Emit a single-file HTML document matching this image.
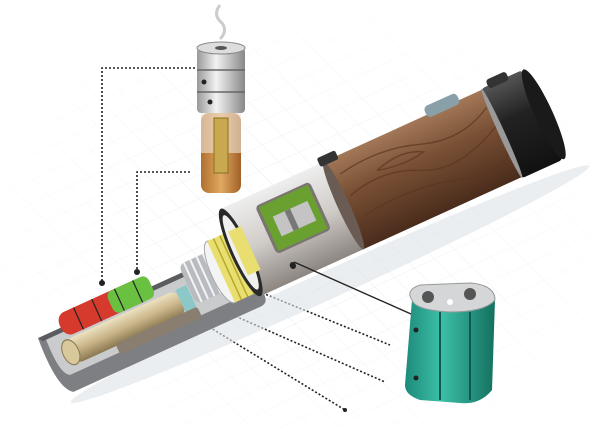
<!DOCTYPE html>
<html><head><style>html,body{margin:0;padding:0;background:#fff;width:600px;height:428px;overflow:hidden}</style></head>
<body>
<svg width="600" height="428" viewBox="0 0 600 428" xmlns="http://www.w3.org/2000/svg">
<defs>
<pattern id="grid" width="22" height="22" patternUnits="userSpaceOnUse" patternTransform="rotate(-25) skewX(20)">
<path d="M0 0H22M0 0V22" stroke="#dfe8ee" stroke-width="1" fill="none"/></pattern>
<radialGradient id="fade" cx="0.5" cy="0.55" r="0.6"><stop offset="0" stop-color="#fff" stop-opacity="0"/><stop offset="1" stop-color="#fff" stop-opacity="1"/></radialGradient>
<linearGradient id="wood" x1="0" y1="0" x2="0" y2="1"><stop offset="0" stop-color="#a27858"/><stop offset="0.4" stop-color="#7a5035"/><stop offset="1" stop-color="#4a2c1c"/></linearGradient>
<linearGradient id="metal" x1="0" y1="0" x2="0" y2="1"><stop offset="0" stop-color="#eee"/><stop offset="0.5" stop-color="#d0ccc8"/><stop offset="1" stop-color="#8c8580"/></linearGradient>
<linearGradient id="cap" x1="0" y1="0" x2="0" y2="1"><stop offset="0" stop-color="#555"/><stop offset="0.4" stop-color="#222"/><stop offset="1" stop-color="#111"/></linearGradient>
<linearGradient id="gold" x1="0" y1="0" x2="0" y2="1"><stop offset="0" stop-color="#eee2c0"/><stop offset="0.5" stop-color="#c8b488"/><stop offset="1" stop-color="#8a7850"/></linearGradient>
<linearGradient id="teal" x1="0" y1="0" x2="1" y2="0"><stop offset="0" stop-color="#1d8a7a"/><stop offset="0.4" stop-color="#3cc0a8"/><stop offset="1" stop-color="#14705f"/></linearGradient>
<linearGradient id="amber" x1="0" y1="0" x2="1" y2="0"><stop offset="0" stop-color="#b07030"/><stop offset="0.5" stop-color="#e0a860"/><stop offset="1" stop-color="#a06028"/></linearGradient>
<linearGradient id="cmetal" x1="0" y1="0" x2="1" y2="0"><stop offset="0" stop-color="#999"/><stop offset="0.4" stop-color="#f2f2f2"/><stop offset="1" stop-color="#888"/></linearGradient>
</defs>
<rect width="600" height="428" fill="url(#grid)"/>
<rect width="600" height="428" fill="url(#fade)"/>

<g fill="none" stroke="#222" stroke-width="1.6" stroke-dasharray="2 2">
<path d="M203 68H102V283"/>
<path d="M190 172H137V272"/>
<path d="M165 300L345 410"/>
<path d="M210 305L385 382"/>
<path d="M255 290L390 345"/>
</g>
<circle cx="102" cy="283" r="3" fill="#222"/><circle cx="137" cy="272" r="3" fill="#222"/>
<circle cx="345" cy="410" r="2" fill="#222"/>

<g transform="translate(66,332) rotate(-24.5)">
 <ellipse cx="260" cy="66" rx="285" ry="14" fill="#dde3e8" opacity="0.6"/>
 <g transform="scale(1,1.2)">
 <path d="M-28 -5 L196 -5 L196 40 Q196 48 188 48 L-18 48 Q-32 40 -28 -5Z" fill="#7d7f82"/>
 <path d="M-21 -5 L196 -5 L196 34 L-14 34 Q-24 30 -21 -5Z" fill="#c9cbcd"/>
 <path d="M-28 -5 L196 -5 L196 -1 L-25 -1Z" fill="#5a5c5e"/>
 <rect x="-6" y="6" width="125" height="22" rx="10" fill="url(#gold)"/>
 <ellipse cx="-4" cy="17" rx="8" ry="11" fill="#d8c89c" stroke="#8a7850"/>
 <rect x="117" y="6" width="12" height="22" fill="#8cc8c8"/>
 <rect x="-3" y="-16" width="95" height="20" rx="9" fill="#d63a2c"/>
 <rect x="52" y="-16" width="45" height="20" rx="6" fill="#6ac040"/>
 <g stroke="#222" stroke-width="1.2"><line x1="17" y1="-16" x2="17" y2="4"/><line x1="37" y1="-16" x2="37" y2="4"/><line x1="62" y1="-16" x2="62" y2="4"/><line x1="82" y1="-16" x2="82" y2="4"/></g>
 <rect x="40" y="26" width="90" height="10" rx="3" fill="#8a7e70"/>
 <rect x="130" y="-12" width="40" height="36" rx="6" fill="#b8bcc0"/>
 <g stroke="#f4f4f4" stroke-width="2"><line x1="136" y1="-12" x2="136" y2="24"/><line x1="143" y1="-12" x2="143" y2="24"/><line x1="150" y1="-12" x2="150" y2="24"/><line x1="157" y1="-12" x2="157" y2="24"/><line x1="164" y1="-12" x2="164" y2="24"/></g>
 <ellipse cx="166" cy="8" rx="10" ry="28" fill="#f4f4f4" stroke="#aaa"/>
 <rect x="166" y="-20" width="30" height="56" fill="#e8df70"/>
 <g stroke="#b8a830" stroke-width="1.5"><line x1="173" y1="-20" x2="173" y2="36"/><line x1="180" y1="-20" x2="180" y2="36"/><line x1="187" y1="-20" x2="187" y2="36"/></g>
 <rect x="192" y="-40" width="112" height="80" fill="url(#metal)"/>
 <ellipse cx="192" cy="0" rx="10" ry="40" fill="#2a2a2a"/>
 <ellipse cx="192" cy="0" rx="7" ry="34" fill="#f0f0f0"/>
 <path d="M189 -20 h14 v40 h-14z" fill="#e8df70"/>
 <rect x="224" y="-30" width="60" height="44" rx="4" fill="#7a7570"/>
 <rect x="227" y="-28" width="54" height="40" fill="#6aa030"/>
 <rect x="236" y="-16" width="38" height="18" fill="#c4c4c4"/>
 <rect x="249" y="-16" width="6" height="18" fill="#777"/>
 <circle cx="234" cy="28" r="3" fill="#222"/>
 <rect x="304" y="-40" width="176" height="80" fill="url(#wood)"/>
 <ellipse cx="305" cy="0" rx="6" ry="40" fill="#6a5c54"/>
 <g stroke="#5a3620" stroke-width="1.2" fill="none" opacity="0.7">
 <path d="M315 -25 Q360 -32 400 -20 T476 -25"/><path d="M315 -5 Q355 -15 390 0 T478 -8"/><path d="M320 15 Q370 8 420 20 T478 14"/><path d="M350 -15 q30 -8 50 2 q-22 4 -50 -2"/>
 </g>
 <rect x="300" y="-45" width="20" height="8" rx="2" fill="#333"/>
 <rect x="418" y="-47" width="36" height="10" rx="4" fill="#8aa0a8"/>
 <rect x="478" y="-41" width="46" height="82" rx="4" fill="url(#cap)"/>
 <ellipse cx="525" cy="0" rx="9" ry="41" fill="#1a1a1a"/>
 <ellipse cx="479" cy="0" rx="3" ry="41" fill="#999"/>
 <rect x="486" y="-46" width="22" height="8" rx="3" fill="#333"/>
 </g>
</g>
<path d="M294 262L420 318" stroke="#222" stroke-width="1.4"/>

<g>
 <path d="M220 5 q-8 10 2 18 q6 8 -2 16" stroke="#ccc" stroke-width="3" fill="none"/>
 <rect x="197" y="48" width="48" height="65" rx="4" fill="url(#cmetal)"/>
 <ellipse cx="221" cy="48" rx="24" ry="6" fill="#ddd" stroke="#888"/>
 <ellipse cx="221" cy="48" rx="6" ry="2" fill="#555"/>
 <g stroke="#666" stroke-width="1.5"><line x1="197" y1="70" x2="245" y2="70"/><line x1="197" y1="92" x2="245" y2="92"/></g>
 <circle cx="204" cy="82" r="2.5" fill="#222"/><circle cx="210" cy="102" r="2.5" fill="#222"/>
 <rect x="201" y="113" width="40" height="80" rx="8" fill="url(#amber)"/>
 <rect x="201" y="113" width="40" height="40" fill="#f0e6d8" opacity="0.6"/>
 <rect x="214" y="118" width="14" height="55" fill="#c8a850" stroke="#8a7020"/>
</g>

<g>
 <path d="M412 300 Q405 290 420 285 L470 283 Q495 285 495 300 L492 390 Q480 405 460 403 L420 400 Q405 395 405 385Z" fill="url(#teal)"/>
 <path d="M412 300 Q405 290 420 285 L470 283 Q495 285 495 300 Q485 312 450 312 Q415 310 412 300Z" fill="#d4d6d8" stroke="#999"/>
 <circle cx="428" cy="297" r="6" fill="#555"/><circle cx="470" cy="294" r="6" fill="#555"/><circle cx="450" cy="302" r="3" fill="#fff"/>
 <path d="M440 312 V400 M470 312 V400" stroke="#0e5a4e" stroke-width="2"/>
 <circle cx="416" cy="330" r="2.5" fill="#222"/><circle cx="416" cy="378" r="2.5" fill="#222"/>
</g>
</svg>
</body></html>
